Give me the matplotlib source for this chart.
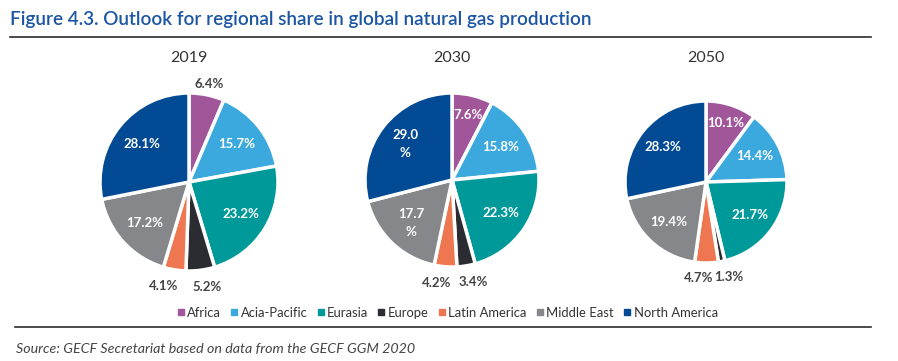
import matplotlib
matplotlib.use("Agg")
import matplotlib.pyplot as plt
from matplotlib.lines import Line2D
import numpy as np

regions = ["Africa", "Acia-Pacific", "Eurasia", "Europe", "Latin America", "Middle East", "North America"]
colors = ["#A2569A", "#3BA9DD", "#00999A", "#2B2C31", "#EE7650", "#86878B", "#024B94"]
years = ["2019", "2030", "2050"]
share_2019 = [6.4, 15.7, 23.2, 5.2, 4.1, 17.2, 28.1]
share_2030 = [7.6, 15.8, 22.3, 3.4, 4.2, 17.7, 29.0]
share_2050 = [10.1, 14.4, 21.7, 1.3, 4.7, 19.4, 28.3]
labels_2019 = ["6.4%", "15.7%", "23.2%", "5.2%", "4.1%", "17.2%", "28.1%"]
labels_2030 = ["7.6%", "15.8%", "22.3%", "3.4%", "4.2%", "17.7\n%", "29.0\n%"]
labels_2050 = ["10.1%", "14.4%", "21.7%", "1.3%", "4.7%", "19.4%", "28.3%"]

W, H = 898, 361
plt.rcParams['font.family'] = ['Lato', 'DejaVu Sans']
fig = plt.figure(figsize=(W / 100, H / 100), dpi=100)

# Title and rules
fig.text(10 / W, 1 - 19 / H, "Figure 4.3. Outlook for regional share in global natural gas production",
         fontsize=13.6, fontweight="semibold", color="#1B55A3", ha="left", va="center")
fig.add_artist(Line2D([10 / W, 871 / W], [1 - 37 / H, 1 - 37 / H], color="#2b2b2b", lw=1.2))
fig.add_artist(Line2D([15 / W, 871 / W], [1 - 327 / H, 1 - 327 / H], color="#2b2b2b", lw=1.2))
fig.text(16 / W, 1 - 349 / H, "Source: GECF Secretariat based on data from the GECF GGM 2020",
         fontsize=10.3, style="italic", color="#444444", ha="left", va="center")

pies = [
    (share_2019, labels_2019, (189, 182), 89, {0, 3, 4}),
    (share_2030, labels_2030, (452, 180), 87, {3, 4}),
    (share_2050, labels_2050, (706, 182), 81, {3, 4}),
]
R = 115
for (vals, labs, (cx, cy), r, outside), yr in zip(pies, years):
    ax = fig.add_axes([(cx - R) / W, (H - cy - R) / H, 2 * R / W, 2 * R / H])
    wedges, _ = ax.pie(vals, colors=colors, startangle=90, counterclock=False, radius=r,
                       wedgeprops=dict(edgecolor="white", linewidth=2.5))
    ax.set_xlim(-R, R)
    ax.set_ylim(-R, R)
    ax.set_aspect("equal")
    ax.axis("off")
    for w, lab, i in zip(wedges, labs, range(len(vals))):
        ang = np.deg2rad((w.theta1 + w.theta2) / 2)
        ha = "center"
        dx = 0
        if i in outside:
            d = 1.19 * r
            col = "#444444"
            if i == 3:
                ha, dx = "left", -10
            elif i == 4:
                ha, dx = "right", 7
            else:
                d = 1.12 * r
        else:
            d = 0.77 * r if i == 0 else 0.68 * r
            col = "white"
        ax.text(d * np.cos(ang) + dx, d * np.sin(ang), lab, ha=ha, va="center",
                fontsize=9.5, fontweight="bold", color=col, linespacing=1.6)
    fig.text(cx / W, 1 - 58 / H, yr, fontsize=11.5, color="#333333", ha="center", va="center")

handles = [Line2D([], [], marker="s", linestyle="none", markersize=4.5, color=c) for c in colors]
fig.legend(handles, regions, loc="center", bbox_to_anchor=(446 / W, 1 - 313 / H), ncol=7,
           frameon=False, fontsize=9.4, handletextpad=0.0, columnspacing=0.5,
           handlelength=1.0, labelcolor="#333333")

fig.savefig("out.png", dpi=100)
